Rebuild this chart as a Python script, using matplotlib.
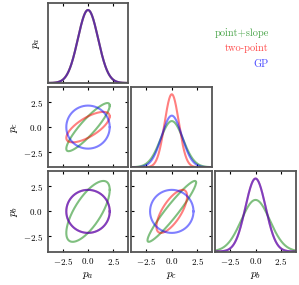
import numpy as np
import matplotlib
matplotlib.use('Agg')
import matplotlib.pyplot as plt

plt.rcParams['font.family'] = 'serif'
plt.rcParams['font.serif'] = ['cmr10']
plt.rcParams['mathtext.fontset'] = 'cm'
plt.rcParams['axes.formatter.use_mathtext'] = True
plt.rcParams['font.size'] = 6.5

# Parameters in plotting order, and the three models
param_labels = [r'$p_a$', r'$p_c$', r'$p_b$']
model_names = ['point+slope', 'two-point', 'GP']
model_colors = ['g', 'r', 'b']

# Covariance matrices (order: p_a, p_c, p_b), all means zero
cov_point_slope = [[1.0, 1.0, 1.0],
                   [1.0, 1.25, 1.5],
                   [1.0, 1.5, 2.0]]
cov_two_point = [[1.0, 0.5, 0.0],
                 [0.5, 0.5, 0.5],
                 [0.0, 0.5, 1.0]]
cov_gp = [[1.0, 0.0, 0.0],
          [0.0, 1.0, 0.0],
          [0.0, 0.0, 1.0]]
covs = [np.array(cov_point_slope), np.array(cov_two_point), np.array(cov_gp)]

contour_level = 0.9  # probability mass enclosed by the ellipses
ticks = [-2.5, 0.0, 2.5]
lim = (-4, 4)

fig, axes = plt.subplots(3, 3, figsize=(2.99, 2.85), dpi=100)
fig.subplots_adjust(left=0.159, right=0.99, top=0.9905, bottom=0.1175,
                    wspace=0.035, hspace=0.05)

xs = np.linspace(lim[0], lim[1], 400)
t = np.linspace(0, 2 * np.pi, 300)
r = np.sqrt(-2 * np.log(1 - contour_level))
circle = np.vstack([np.cos(t), np.sin(t)]) * r

spine_col = '#555555'
n = len(param_labels)
for i in range(n):
    for j in range(n):
        ax = axes[i, j]
        if j > i:
            ax.axis('off')
            continue
        for s in ax.spines.values():
            s.set_color(spine_col)
            s.set_linewidth(1.3)
        ax.set_xlim(lim)
        ax.set_xticks(ticks)
        if i == j:
            ymax = 0
            for cov, col in zip(covs, model_colors):
                sig = np.sqrt(cov[i, i])
                pdf = np.exp(-0.5 * (xs / sig) ** 2) / (sig * np.sqrt(2 * np.pi))
                ax.plot(xs, pdf, color=col, alpha=0.5, lw=1.5)
                ymax = max(ymax, pdf.max())
            ax.set_ylim(0, ymax * 1.1)
            ax.set_yticks([])
            ax.tick_params(axis='x', direction='in', top=True, length=2.5, width=0.8)
        else:
            for cov, col in zip(covs, model_colors):
                sub = cov[np.ix_([j, i], [j, i])]
                L = np.linalg.cholesky(sub)
                pts = L @ circle
                ax.plot(pts[0], pts[1], color=col, alpha=0.5, lw=1.5)
            ax.set_ylim(lim)
            ax.set_yticks(ticks)
            ax.tick_params(direction='in', top=True, right=True, length=2.5, width=0.8)
        if i == n - 1:
            ax.set_xlabel(param_labels[j], fontsize=8, labelpad=2)
        else:
            ax.set_xticklabels([])
        if j == 0:
            if i == 0:
                ax.set_ylabel(param_labels[i], fontsize=8, labelpad=4)
                ax.set_yticklabels([])
            else:
                ax.set_ylabel(param_labels[i], fontsize=8, labelpad=2)
        elif i != j:
            ax.set_yticklabels([])

# Model labels in the empty upper-right corner
label_y = [0.874, 0.821, 0.766]
for name, col, y in zip(model_names, model_colors, label_y):
    fig.text(0.9, y, name, color=col, alpha=0.7, ha='right', va='baseline', fontsize=7.5)

fig.savefig('out.png', dpi=100)
